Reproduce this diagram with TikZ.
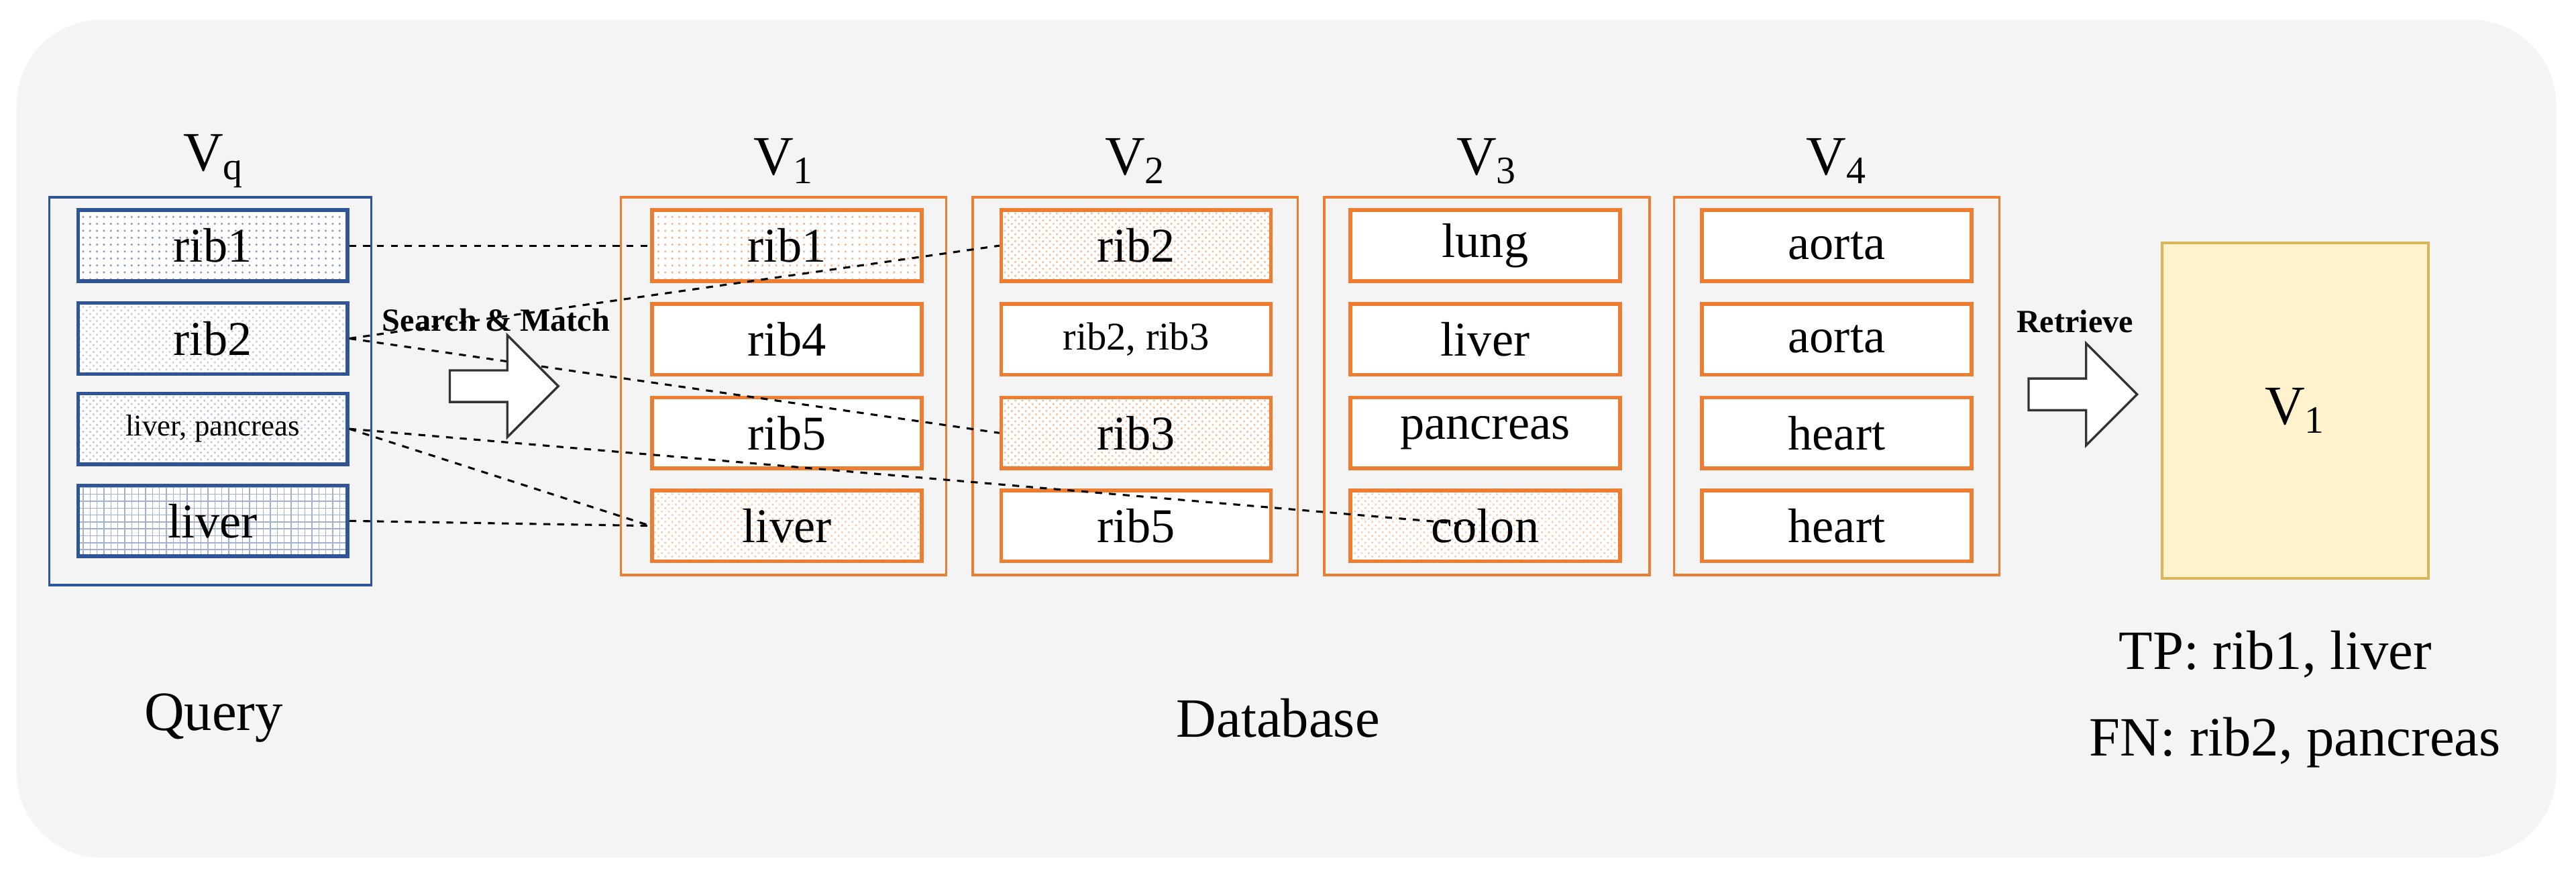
\documentclass[tikz,border=0pt]{standalone}
\usepackage{fontspec}
\setmainfont{Liberation Serif}
\usetikzlibrary{positioning}
\usetikzlibrary{patterns}
\usetikzlibrary{shapes.arrows}
\definecolor{qblue}{HTML}{2F5597}
\definecolor{dborange}{HTML}{ED7D31}
\definecolor{resfill}{HTML}{FFF2CC}
\definecolor{resdraw}{HTML}{D6B656}
\tikzset{
  entry/.style = {draw, line width = 1.6pt, minimum width = 4.1cm, minimum height = 1.08cm, inner sep = 0pt, font = \fontsize{21}{21}\selectfont, preaction = {fill = white}},
  qentry/.style = {entry, draw = qblue},
  dbentry/.style = {entry, draw = dborange},
  frame/.style = {draw, line width = 1pt},
  title/.style = {font = \fontsize{24}{24}\selectfont},
  link/.style = {dashed, line width = 0.9pt},
  bigarrow/.style = {single arrow, draw = black!80, line width = 1pt, fill = white, minimum height = 1.65cm, minimum width = 1.55cm, single arrow head extend = 0.3cm}
}
\begin{document}
\begin{tikzpicture}[x = 0.025cm, y = -0.025cm]
\useasboundingbox (0, 0) rectangle (1568, 537);
\fill[gray!9, rounded corners = 1.3cm] (10, 12) rectangle (1556, 522);
% query
\draw[frame, qblue] (30, 120) rectangle (226, 356);
\node[title] (vq) at (130, 98) {V\textsubscript{q}};
\node[qentry, pattern = dots, pattern color = qblue!60] (q1) at (129.5, 149.5) {rib1};
\node[qentry, pattern = crosshatch dots, pattern color = qblue!30] (q2) at (129.5, 206) {rib2};
\node[qentry, pattern = crosshatch dots, pattern color = qblue!35, font = \fontsize{13}{13}\selectfont] (q3) at (129.5, 261) {liver, pancreas};
\node[qentry, pattern = grid, pattern color = qblue!45] (q4) at (129.5, 317) {liver};
% database
\foreach \col/\cx/\lab in {a/477/1, b/691/2, c/905/3, d/1118/4} {
  \draw[frame, dborange] (\cx - 99, 120) rectangle (\cx + 99, 350);
  \node[title] (v\col) at (\cx, 98) {V\textsubscript{\lab}};
}
\node[dbentry, pattern = dots, pattern color = dborange!60] (a1) at (479, 149.5) {rib1};
\node[dbentry] (a2) at (479, 206.5) {rib4};
\node[dbentry] (a3) at (479, 263.5) {rib5};
\node[dbentry, pattern = crosshatch dots, pattern color = dborange!40] (a4) at (479, 320) {liver};
\node[dbentry, pattern = crosshatch dots, pattern color = dborange!50] (b1) at (691.5, 149.5) {rib2};
\node[dbentry, font = \fontsize{17}{17}\selectfont] (b2) at (691.5, 206.5) {rib2, rib3};
\node[dbentry, pattern = crosshatch dots, pattern color = dborange!50] (b3) at (691.5, 263.5) {rib3};
\node[dbentry] (b4) at (691.5, 320) {rib5};
\node[dbentry] (c1) at (904, 149.5) {lung};
\node[dbentry] (c2) at (904, 206.5) {liver};
\node[dbentry] (c3) at (904, 263.5) {pancreas};
\node[dbentry, pattern = crosshatch dots, pattern color = dborange!40] (c4) at (904, 320) {colon};
\node[dbentry] (d1) at (1118, 149.5) {aorta};
\node[dbentry] (d2) at (1118, 206.5) {aorta};
\node[dbentry] (d3) at (1118, 263.5) {heart};
\node[dbentry] (d4) at (1118, 320) {heart};
% matches
\draw[link] (q1.east) -- (a1.west);
\draw[link] (q2.east) -- (b1.west);
\draw[link] (q2.east) -- (b3.west);
\draw[link] (q3.east) -- (a4.west);
\draw[link] (q3.east) -- (c4.center);
\draw[link] (q4.east) -- (a4.west);
% arrows
\node[bigarrow] (sm) at (302, 235) {};
\node[font = \bfseries\fontsize{14}{14}\selectfont, above = 0.45cm of sm] (smtext) {Search \& Match};
\node[bigarrow] (ret) at (1263, 240) {};
\node[font = \bfseries\fontsize{14}{14}\selectfont, above = 0.55cm of ret] (rettext) {Retrieve};
% result
\node[draw = resdraw, fill = resfill, line width = 1.2pt, minimum width = 4.05cm, minimum height = 5.1cm, title] (res) at (1397, 250) {V\textsubscript{1}};
\node[title] (tp) at (1385, 398) {TP: rib1, liver};
\node[title] (fn) at (1397, 452) {FN: rib2, pancreas};
\node[title] (query) at (130, 437) {Query};
\node[title] (db) at (778, 437) {Database};
\end{tikzpicture}
\end{document}
